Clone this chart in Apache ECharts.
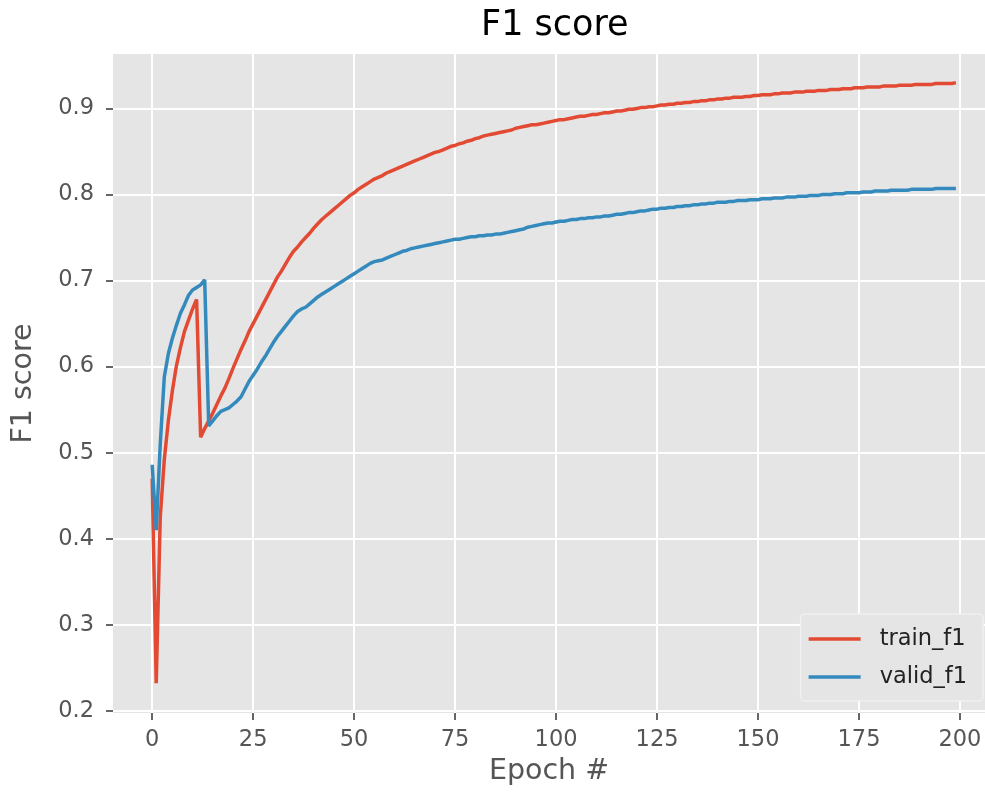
<!DOCTYPE html>
<html>
<head>
<meta charset="utf-8">
<title>F1 score</title>
<script src="https://cdn.jsdelivr.net/npm/echarts@6/dist/echarts.min.js"></script>
<style>
  html, body { margin: 0; padding: 0; background: #fff; }
  #main { width: 985px; height: 796px; }
</style>
</head>
<body>
<div id="main"></div>
<script>
// values, one per epoch
var trainF1 = [
    0.470, 0.232, 0.425, 0.492, 0.537, 0.572, 0.601, 0.622, 0.641, 0.654,
    0.667, 0.678, 0.518, 0.528, 0.537, 0.546, 0.556, 0.566, 0.575, 0.586,
    0.598, 0.609, 0.620, 0.630, 0.641, 0.650, 0.659, 0.668, 0.677, 0.686,
    0.695, 0.704, 0.711, 0.719, 0.727, 0.734, 0.739, 0.745, 0.750, 0.755,
    0.761, 0.766, 0.771, 0.775, 0.779, 0.783, 0.787, 0.791, 0.795, 0.799,
    0.802, 0.806, 0.809, 0.812, 0.815, 0.818, 0.820, 0.822, 0.825, 0.827,
    0.829, 0.831, 0.833, 0.835, 0.837, 0.839, 0.841, 0.843, 0.845, 0.847,
    0.849, 0.850, 0.852, 0.854, 0.856, 0.857, 0.859, 0.860, 0.862, 0.863,
    0.865, 0.866, 0.868, 0.869, 0.870, 0.871, 0.872, 0.873, 0.874, 0.875,
    0.877, 0.878, 0.879, 0.880, 0.881, 0.881, 0.882, 0.883, 0.884, 0.885,
    0.886, 0.887, 0.887, 0.888, 0.889, 0.890, 0.891, 0.891, 0.892, 0.893,
    0.893, 0.894, 0.895, 0.895, 0.896, 0.897, 0.897, 0.898, 0.899, 0.899,
    0.900, 0.901, 0.901, 0.902, 0.902, 0.903, 0.904, 0.904, 0.905, 0.905,
    0.906, 0.906, 0.907, 0.907, 0.908, 0.908, 0.909, 0.909, 0.910, 0.910,
    0.911, 0.911, 0.912, 0.912, 0.913, 0.913, 0.913, 0.914, 0.914, 0.915,
    0.915, 0.916, 0.916, 0.916, 0.917, 0.917, 0.918, 0.918, 0.918, 0.919,
    0.919, 0.919, 0.920, 0.920, 0.920, 0.921, 0.921, 0.921, 0.922, 0.922,
    0.922, 0.923, 0.923, 0.923, 0.924, 0.924, 0.924, 0.925, 0.925, 0.925,
    0.925, 0.926, 0.926, 0.926, 0.926, 0.927, 0.927, 0.927, 0.927, 0.928,
    0.928, 0.928, 0.928, 0.928, 0.929, 0.929, 0.929, 0.929, 0.929, 0.930
];

var validF1 = [
    0.486, 0.410, 0.510, 0.588, 0.615, 0.633, 0.648, 0.662, 0.672, 0.683,
    0.689, 0.692, 0.695, 0.701, 0.531, 0.537, 0.543, 0.548, 0.550, 0.552,
    0.556, 0.560, 0.565, 0.574, 0.583, 0.590, 0.597, 0.605, 0.612, 0.620,
    0.628, 0.635, 0.641, 0.647, 0.653, 0.659, 0.664, 0.667, 0.669, 0.673,
    0.677, 0.681, 0.684, 0.687, 0.690, 0.693, 0.696, 0.699, 0.702, 0.705,
    0.708, 0.711, 0.714, 0.717, 0.720, 0.722, 0.723, 0.724, 0.726, 0.728,
    0.730, 0.732, 0.734, 0.735, 0.737, 0.738, 0.739, 0.740, 0.741, 0.742,
    0.743, 0.744, 0.745, 0.746, 0.747, 0.748, 0.748, 0.749, 0.750, 0.751,
    0.751, 0.752, 0.752, 0.753, 0.753, 0.754, 0.754, 0.755, 0.756, 0.757,
    0.758, 0.759, 0.760, 0.762, 0.763, 0.764, 0.765, 0.766, 0.767, 0.767,
    0.768, 0.769, 0.769, 0.770, 0.771, 0.771, 0.772, 0.772, 0.773, 0.773,
    0.774, 0.774, 0.775, 0.775, 0.776, 0.777, 0.777, 0.778, 0.779, 0.779,
    0.780, 0.781, 0.781, 0.782, 0.783, 0.783, 0.784, 0.784, 0.785, 0.785,
    0.786, 0.786, 0.787, 0.787, 0.788, 0.788, 0.789, 0.789, 0.790, 0.790,
    0.791, 0.791, 0.791, 0.792, 0.792, 0.793, 0.793, 0.793, 0.794, 0.794,
    0.794, 0.795, 0.795, 0.795, 0.796, 0.796, 0.796, 0.797, 0.797, 0.797,
    0.798, 0.798, 0.798, 0.799, 0.799, 0.799, 0.800, 0.800, 0.800, 0.801,
    0.801, 0.801, 0.802, 0.802, 0.802, 0.802, 0.803, 0.803, 0.803, 0.804,
    0.804, 0.804, 0.804, 0.805, 0.805, 0.805, 0.805, 0.805, 0.806, 0.806,
    0.806, 0.806, 0.806, 0.806, 0.807, 0.807, 0.807, 0.807, 0.807, 0.807
];

var xTicks = [0, 25, 50, 75, 100, 125, 150, 175, 200];
var yTicks = [0.2, 0.3, 0.4, 0.5, 0.6, 0.7, 0.8, 0.9];
var seriesNames = ['train_f1', 'valid_f1'];

var font = 'DejaVu Sans';

function withEpochs(values) {
    return values.map(function (v, i) { return [i, v]; });
}

var myChart = echarts.init(document.getElementById('main'), null, { renderer: 'canvas' });

var option = {
    animation: false,
    backgroundColor: '#ffffff',
    color: ['#E24A33', '#348ABD'],
    title: {
        text: 'F1 score',
        left: 481,
        top: 8,
        padding: 0,
        textStyle: {
            fontFamily: font,
            fontSize: 35,
            fontWeight: 'normal',
            color: '#000000'
        }
    },
    grid: {
        show: true,
        left: 113,
        right: 0,
        top: 54,
        bottom: 83,
        backgroundColor: '#E5E5E5',
        borderWidth: 0,
        containLabel: false
    },
    legend: {
        data: seriesNames,
        orient: 'vertical',
        right: 2,
        bottom: 95,
        padding: [12, 16, 11, 8],
        itemGap: 12,
        itemWidth: 52,
        itemHeight: 3.5,
        icon: 'rect',
        backgroundColor: '#E5E5E5',
        borderColor: '#F0F0F0',
        borderWidth: 1.5,
        borderRadius: 4,
        textStyle: {
            fontFamily: font,
            fontSize: 22.5,
            lineHeight: 26,
            color: '#222222',
            padding: [0, 0, 0, 14]
        }
    },
    xAxis: {
        type: 'value',
        min: -9.7,
        max: 206.2,
        name: 'Epoch #',
        nameLocation: 'middle',
        nameGap: 44,
        nameTextStyle: { fontFamily: font, fontSize: 28.5, color: '#555555' },
        axisLine: { show: false, onZero: false },
        axisTick: {
            show: true,
            customValues: xTicks,
            length: 7,
            lineStyle: { color: '#555555', width: 1.8 }
        },
        axisLabel: {
            customValues: xTicks,
            margin: 16,
            fontFamily: font,
            fontSize: 22.5,
            color: '#555555'
        },
        splitLine: { show: true, lineStyle: { color: '#ffffff', width: 2 } }
    },
    yAxis: {
        type: 'value',
        min: 0.1975,
        max: 0.9633,
        name: 'F1 score',
        nameLocation: 'middle',
        nameGap: 75,
        nameTextStyle: { fontFamily: font, fontSize: 28.5, color: '#555555' },
        axisLine: { show: false, onZero: false },
        axisTick: {
            show: true,
            customValues: yTicks,
            length: 7,
            lineStyle: { color: '#555555', width: 1.8 }
        },
        axisLabel: {
            customValues: yTicks,
            margin: 19,
            fontFamily: font,
            fontSize: 22.5,
            color: '#555555',
            formatter: function (v) { return v.toFixed(1); }
        },
        splitLine: { show: true, lineStyle: { color: '#ffffff', width: 2 } }
    },
    series: [
        {
            name: seriesNames[0],
            type: 'line',
            symbol: 'none',
            lineStyle: { width: 3.5 },
            data: withEpochs(trainF1)
        },
        {
            name: seriesNames[1],
            type: 'line',
            symbol: 'none',
            lineStyle: { width: 3.5 },
            data: withEpochs(validF1)
        }
    ]
};

myChart.setOption(option);
</script>
</body>
</html>
